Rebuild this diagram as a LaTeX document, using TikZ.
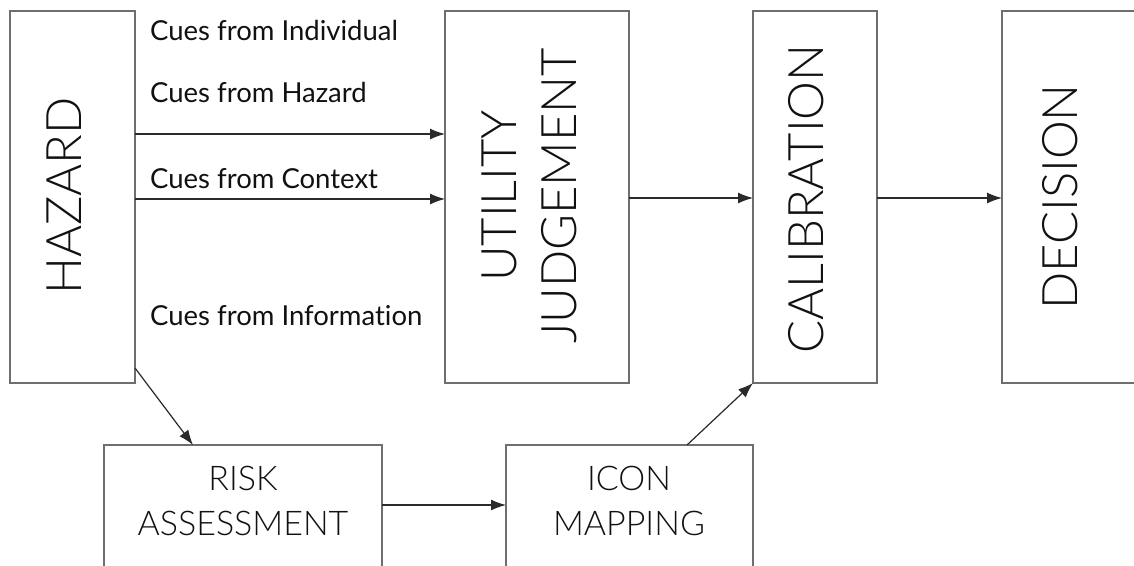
\documentclass[tikz,border=0pt]{standalone}
\usepackage{fontspec}
\setmainfont[Ligatures=NoCommon]{Lato}
\newfontfamily\lightface[Ligatures=NoCommon]{Lato Light}
\usetikzlibrary{arrows.meta}
\definecolor{edge}{HTML}{6E6E6E}
\definecolor{ink}{HTML}{111111}
\definecolor{wire}{HTML}{2A2A2A}
\begin{document}
\begin{tikzpicture}[x=1pt,y=-1pt,
  box/.style={draw=edge,line width=1.4pt,fill=none,inner sep=0pt,outer sep=0pt,rectangle},
  bigtxt/.style={text=ink,inner sep=0pt,font=\lightface\fontsize{49}{60}\selectfont,align=center,rotate=90},
  lowtxt/.style={text=ink,inner sep=0pt,font=\lightface\fontsize{34}{45}\selectfont,align=center},
  cue/.style={text=ink,inner sep=0pt,font=\fontsize{27.5}{30}\selectfont,anchor=base west},
  arr/.style={draw=wire,line width=1.2pt,-{Latex[length=15pt,width=11pt]}}]
\useasboundingbox (0,0) rectangle (1134,565);
\clip (0,0) rectangle (1134,565);
\fill[white] (0,0) rectangle (1134,565);

% boxes
\node[box,minimum width=125pt,minimum height=372pt] (hazard) at (72.5,197) {};
\node[box,minimum width=184pt,minimum height=372pt] (utility) at (537,197) {};
\node[box,minimum width=124pt,minimum height=372pt] (calib) at (815,197) {};
\node[box,minimum width=138pt,minimum height=372pt] (decision) at (1071,197) {};
\node[box,minimum width=278pt,minimum height=155pt] (risk) at (243,522.5) {};
\node[box,minimum width=247pt,minimum height=155pt] (icon) at (629.5,522.5) {};

% box texts
\node[bigtxt] (hazardtxt) at (64.5,196) {HAZARD};
\node[bigtxt] (utilitytxt) at (529.5,196) {UTILITY\\JUDGEMENT};
\node[bigtxt] (calibtxt) at (806.5,199) {CALIBRATION};
\node[bigtxt] (decisiontxt) at (1060.5,197) {DECISION};
\node[lowtxt] (risktxt) at (243,501) {RISK\\ASSESSMENT};
\node[lowtxt] (icontxt) at (629,501) {ICON\\MAPPING};

% cue labels
\node[cue] (cueind) at (150,40) {Cues from Individual};
\node[cue] (cuehaz) at (150,102) {Cues from Hazard};
\node[cue] (cuectx) at (150,188) {Cues from Context};
\node[cue] (cueinf) at (150,325) {Cues from Information};

% connector levels
\coordinate (lvA) at (0,134);
\coordinate (lvB) at (0,199);
\coordinate (lvC) at (0,198);
\coordinate (lvD) at (0,368);
\coordinate (lvE) at (0,505);
\coordinate (riskin) at (193,0);
\coordinate (iconout) at (687,0);

% connectors
\draw[arr] (hazard.east |- lvA) -- (utility.west |- lvA);
\draw[arr] (hazard.east |- lvB) -- (utility.west |- lvB);
\draw[arr] (utility.east |- lvC) -- (calib.west |- lvC);
\draw[arr] (calib.east |- lvC) -- (decision.west |- lvC);
\draw[arr] (hazard.east |- lvD) -- (risk.north -| riskin);
\draw[arr] (risk.east |- lvE) -- (icon.west |- lvE);
\draw[arr] (icon.north -| iconout) -- (calib.south west);
\end{tikzpicture}
\end{document}
